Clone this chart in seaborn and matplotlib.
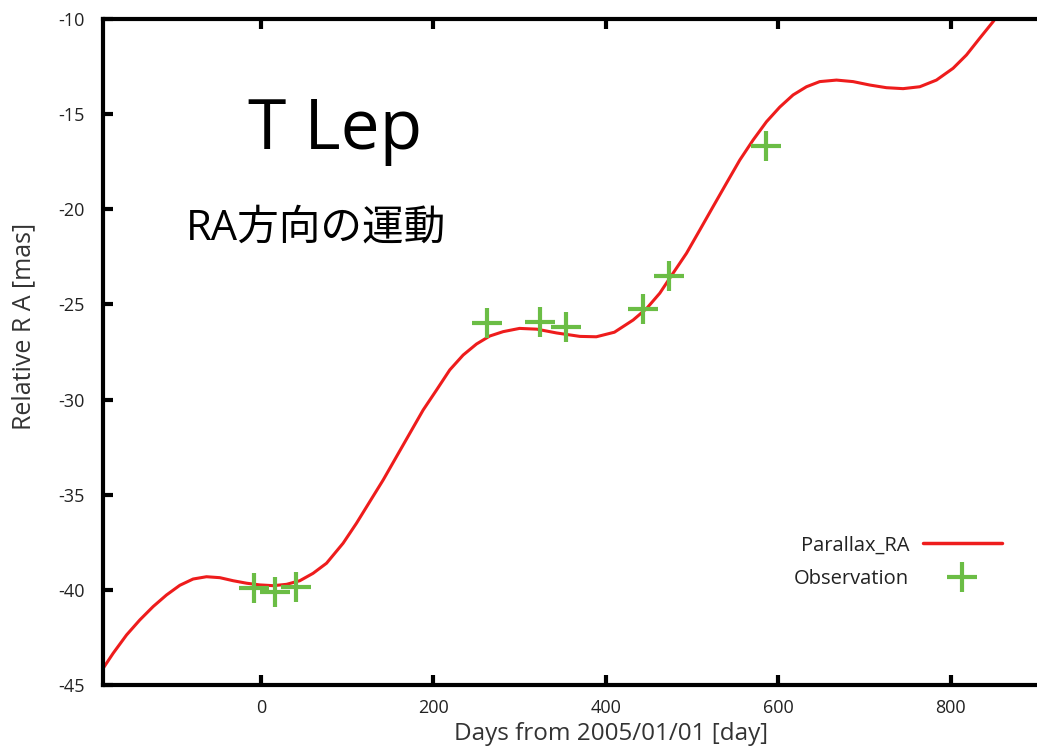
import numpy as np
import pandas as pd
import matplotlib
matplotlib.use("Agg")
import matplotlib.pyplot as plt
import seaborn as sns
from matplotlib.lines import Line2D

# Model curve
curve_day = [-182.8, -171.2, -155.7, -140.3, -124.9, -109.4, -93.9, -78.5, -63.0, -47.5, -32.1,
             -16.6, -1.2, 14.3, 29.8, 45.2, 60.6, 76.2, 95.4, 110.9, 126.4, 141.8, 157.3,
             172.8, 188.2, 203.7, 219.1, 234.6, 250.1, 265.5, 281.0, 300.0, 320.0, 343.0,
             370.0, 389.0, 410.0, 431.7, 447.2, 462.6, 478.0, 493.6, 509.0, 524.4, 539.9,
             555.4, 570.8, 586.3, 601.7, 617.2, 632.7, 648.1, 667.5, 686.7, 706.1, 725.4,
             744.7, 764.1, 783.4, 802.7, 818.2, 833.6, 849.1, 860.0]
curve_ra = [-44.12, -43.33, -42.37, -41.58, -40.88, -40.27, -39.76, -39.43, -39.31, -39.36, -39.52,
            -39.65, -39.74, -39.78, -39.71, -39.52, -39.13, -38.60, -37.55, -36.50, -35.36, -34.23, -33.00,
            -31.77, -30.55, -29.50, -28.44, -27.66, -27.08, -26.66, -26.43, -26.26, -26.30, -26.50,
            -26.68, -26.70, -26.46, -25.82, -25.22, -24.41, -23.36, -22.31, -21.09, -19.86, -18.63,
            -17.41, -16.36, -15.40, -14.63, -13.99, -13.56, -13.29, -13.21, -13.29, -13.47, -13.61,
            -13.66, -13.56, -13.21, -12.59, -11.89, -11.01, -10.14, -9.45]

# Observations
obs_day = [-8.1, 17.0, 40.6, 261.7, 323.5, 354.4, 443.3, 473.4, 585.5]
obs_ra = [-39.92, -40.09, -39.86, -25.99, -25.91, -26.20, -25.24, -23.51, -16.66]

xticks = [0, 200, 400, 600, 800]
yticks = [-45, -40, -35, -30, -25, -20, -15, -10]

sns.set_theme(style="white")
plt.rcParams['font.family'] = ['Open Sans', 'Noto Sans CJK JP', 'DejaVu Sans']

fig = plt.figure(figsize=(10.37, 7.48), dpi=100)
ax = fig.add_axes([103/1037, 1 - 685/748, 1 - 103/1037, (685 - 19)/748])

curve = pd.DataFrame({"day": curve_day, "ra": curve_ra})
obs = pd.DataFrame({"day": obs_day, "ra": obs_ra})

red = "#ee1c1c"
green = "#6bbd45"
sns.lineplot(data=curve, x="day", y="ra", ax=ax, color=red, linewidth=2.2, sort=False)
sns.scatterplot(data=obs, x="day", y="ra", ax=ax, marker="+", s=480, color=green,
                linewidth=3.0, zorder=5)

ax.set_xlim(-183, 900)
ax.set_ylim(-45, -10)
ax.set_xticks(xticks)
ax.set_yticks(yticks)
ax.set_xticklabels([str(t) for t in xticks])
ax.set_yticklabels([str(t) for t in yticks])

for s in ["left", "bottom", "top"]:
    ax.spines[s].set_linewidth(3.0)
    ax.spines[s].set_color("black")
ax.spines["right"].set_visible(False)
ax.tick_params(axis="both", direction="in", length=7, width=3, colors="black",
               labelcolor="#222222", labelsize=13)
ax.tick_params(axis="x", top=True, bottom=True, pad=10)
ax.tick_params(axis="y", left=True, right=False, pad=13)

ax.set_xlabel("Days from 2005/01/01 [day]", fontsize=17.5, color="#333333")
ax.set_ylabel("Relative R A [mas]", fontsize=18, color="#333333")
ax.xaxis.set_label_coords(0.544, -0.056)
ax.yaxis.set_label_coords(-0.072, 0.539)

ax.text(85.8, -15.9, "T Lep", fontsize=50, ha="center", va="center", color="black")
ax.text(63.8, -21.0, "RA方向の運動", fontsize=30, ha="center", va="center", color="black")

handles = [Line2D([0], [0], color=red, linewidth=2.5),
           Line2D([0], [0], color=green, marker="+", linestyle="none", markersize=22, markeredgewidth=3)]
leg = ax.legend(handles, ["Parallax_RA", "Observation"], loc="upper right",
                bbox_to_anchor=(0.973, 0.24), frameon=False, markerfirst=False,
                fontsize=14.5, handlelength=3.9, labelspacing=0.7, borderpad=0, handletextpad=0.7)
for t in leg.get_texts():
    t.set_color("#222222")
    t.set_ha("right")

ax.grid(False)
fig.savefig("out.png", dpi=100)
